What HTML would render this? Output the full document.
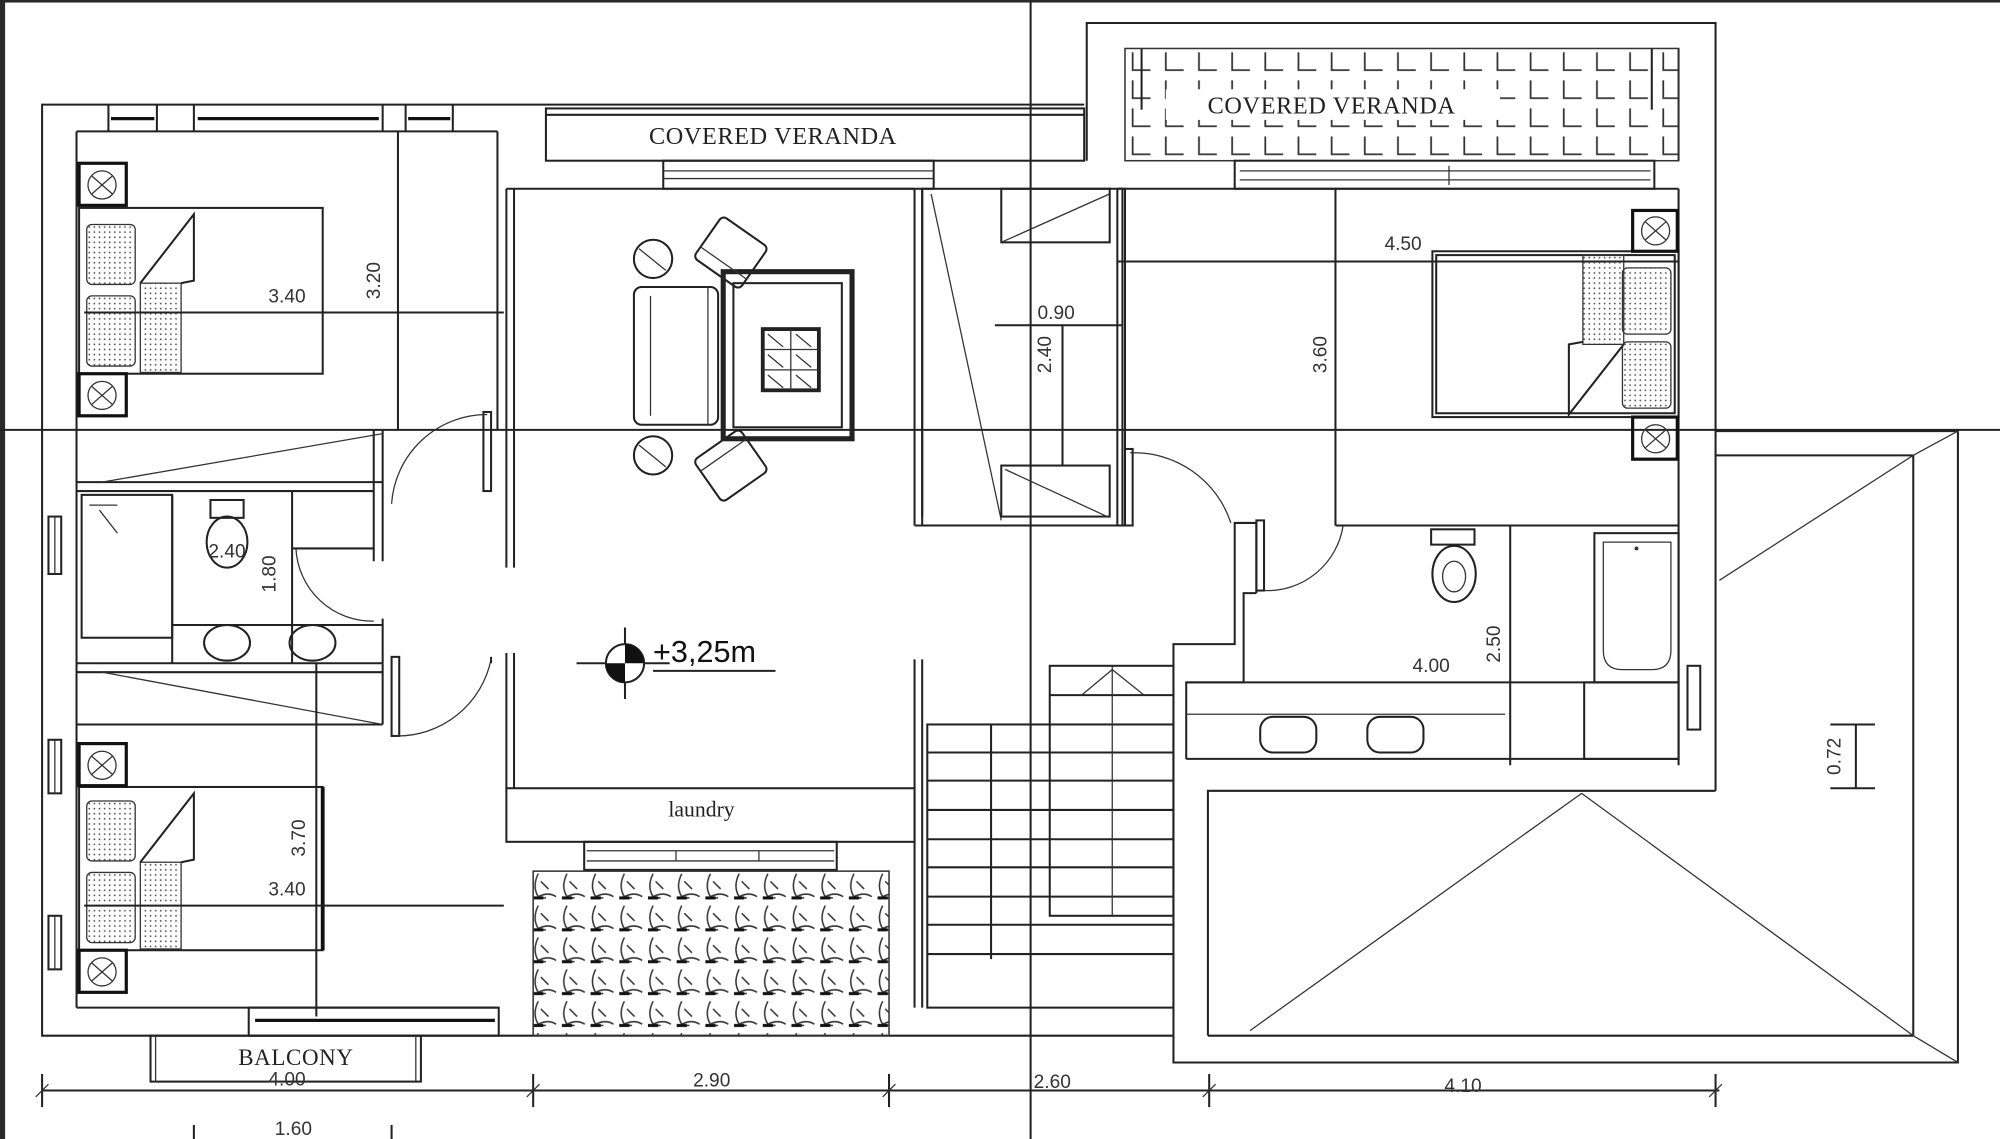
<!DOCTYPE html>
<html><head><meta charset="utf-8"><style>
html,body{margin:0;padding:0;background:#fff;width:2000px;height:1139px;overflow:hidden}
svg{display:block}
.l{fill:none;stroke:#222;stroke-width:1.6}
.t{fill:none;stroke:#333;stroke-width:1}
.tk{fill:none;stroke:#111;stroke-width:2.6}
.lab{font-family:"Liberation Serif",serif;fill:#222}
.dim{font-family:"Liberation Sans",sans-serif;fill:#333;font-size:15px}
</style></head><body>
<svg width="2000" height="1139" viewBox="0 0 1568 893" preserveAspectRatio="none" xmlns="http://www.w3.org/2000/svg">
<defs>
<pattern id="tileL" x="882" y="38" width="26" height="22" patternUnits="userSpaceOnUse">
<path d="M6 3 V17 H20" fill="none" stroke="#333" stroke-width="1.4"/>
</pattern>
<pattern id="tileC" x="418" y="683" width="22.5" height="25" patternUnits="userSpaceOnUse">
<path d="M4 2 Q-1 12 4 20 Q12 16 18 20 M6 8 L12 14 M2 21 H10" fill="none" stroke="#333" stroke-width="1.2"/>
<path d="M0 21 H8" stroke="#111" stroke-width="2.4"/>
</pattern>
<pattern id="dots" width="4" height="4" patternUnits="userSpaceOnUse"><circle cx="2" cy="2" r="0.7" fill="#555"/></pattern>
</defs>
<rect width="1568" height="893" fill="#fff"/>
<rect x="0" y="0" width="4" height="893" fill="#2a2a2a"/>
<rect x="0" y="0" width="1568" height="2" fill="#2a2a2a"/>

<line class="l" x1="0" y1="337" x2="1568" y2="337"/>
<line class="l" x1="808" y1="0" x2="808" y2="893"/>

<polyline class="l" points="850,82 33,82 33,812 920,812"/>
<line class="l" x1="60" y1="103" x2="60" y2="790"/>
<line class="l" x1="60" y1="103" x2="390" y2="103"/>
<line class="l" x1="390" y1="103" x2="390" y2="337"/>
<line class="l" x1="60" y1="790" x2="390" y2="790"/>
<g class="l"><line x1="85" y1="82" x2="85" y2="103"/><line x1="123" y1="82" x2="123" y2="103"/><line x1="152" y1="82" x2="152" y2="103"/><line x1="300" y1="82" x2="300" y2="103"/><line x1="318" y1="82" x2="318" y2="103"/><line x1="355" y1="82" x2="355" y2="103"/></g>
<g class="tk"><line x1="87" y1="93" x2="121" y2="93"/><line x1="155" y1="93" x2="297" y2="93"/><line x1="320" y1="93" x2="353" y2="93"/></g>
<rect class="l" x="428" y="85" width="422" height="41"/>
<line class="l" x1="428" y1="90" x2="850" y2="90"/>
<text class="lab" x="606" y="113" font-size="19" text-anchor="middle" letter-spacing="0.5">COVERED VERANDA</text>
<rect class="l" x="520" y="126" width="212" height="22"/>
<line class="t" x1="520" y1="134" x2="732" y2="134"/><line class="t" x1="520" y1="140" x2="732" y2="140"/>

<line class="l" x1="397" y1="148" x2="717" y2="148"/>
<line class="l" x1="397" y1="148" x2="397" y2="445"/>
<line class="l" x1="403" y1="148" x2="403" y2="445"/>
<line class="l" x1="397" y1="512" x2="397" y2="618"/>
<line class="l" x1="403" y1="512" x2="403" y2="618"/>
<line class="l" x1="717" y1="148" x2="717" y2="412"/>
<line class="l" x1="723" y1="148" x2="723" y2="405"/>
<line class="l" x1="717" y1="517" x2="717" y2="790"/>
<line class="l" x1="723" y1="517" x2="723" y2="790"/>
<rect class="l" x="397" y="618" width="320" height="42"/>
<text class="lab" x="550" y="640" font-size="17" text-anchor="middle">laundry</text>
<rect class="l" x="458" y="660" width="198" height="22"/>
<line class="t" x1="460" y1="667" x2="654" y2="667"/><line class="t" x1="460" y1="675" x2="654" y2="675"/>
<line class="t" x1="530" y1="667" x2="530" y2="675"/><line class="t" x1="595" y1="667" x2="595" y2="675"/>
<rect x="418" y="683" width="279" height="129" fill="url(#tileC)" stroke="#333" stroke-width="1.2"/>

<line class="l" x1="452" y1="520" x2="525" y2="520"/>
<line class="l" x1="490" y1="492" x2="490" y2="548"/>
<circle cx="490" cy="520" r="15" fill="#fff" stroke="#222" stroke-width="1.6"/>
<path d="M490 505 A15 15 0 0 1 505 520 L490 520Z M490 520 L475 520 A15 15 0 0 0 490 535Z" fill="#111"/>
<text x="512" y="519" font-family="Liberation Sans,sans-serif" font-size="24" fill="#111">+3,25m</text>
<line class="l" x1="512" y1="526" x2="608" y2="526"/>

<rect x="567" y="213" width="101" height="131" fill="none" stroke="#222" stroke-width="4"/>
<rect class="l" x="575" y="222" width="85" height="113"/>
<rect x="598" y="258" width="44" height="48" fill="none" stroke="#222" stroke-width="3"/>
<path class="t" d="M620 258V306M598 274H642M598 290H642M602 262L614 272M624 262L636 272M602 294L614 304M624 294L636 304M602 278L614 288M624 278L636 288"/>
<rect class="l" x="497" y="225" width="66" height="108" rx="6"/>
<line class="t" x1="510" y1="232" x2="510" y2="326"/>
<line class="t" x1="555" y1="225" x2="555" y2="333"/>
<g transform="translate(573,198) rotate(35)"><rect class="l" x="-22" y="-20" width="44" height="40" rx="4"/><line class="t" x1="-22" y1="10" x2="22" y2="10"/></g>
<g transform="translate(573,365) rotate(-35)"><rect class="l" x="-22" y="-20" width="44" height="40" rx="4"/><line class="t" x1="-22" y1="-10" x2="22" y2="-10"/></g>
<circle class="l" cx="512" cy="203" r="15"/><line class="t" x1="501" y1="195" x2="522" y2="212"/>
<circle class="l" cx="512" cy="357" r="15"/><line class="t" x1="501" y1="349" x2="522" y2="366"/>

<rect class="l" x="62" y="163" width="191" height="130"/>
<rect x="110" y="222" width="32" height="70" fill="url(#dots)" stroke="#333"/>
<path class="l" d="M110 222 L152 168 L152 220 L142 222"/>
<rect x="68" y="176" width="38" height="47" fill="url(#dots)" stroke="#333" rx="4"/>
<rect x="68" y="232" width="38" height="55" fill="url(#dots)" stroke="#333" rx="4"/>
<rect x="62" y="128" width="37" height="33" fill="none" stroke="#111" stroke-width="2.5"/>
<circle class="t" cx="80" cy="145" r="11"/><path class="t" d="M72 138L88 152M88 138L72 152"/>
<rect x="62" y="293" width="37" height="33" fill="none" stroke="#111" stroke-width="2.5"/>
<circle class="t" cx="80" cy="310" r="11"/><path class="t" d="M72 303L88 317M88 303L72 317"/>
<line class="l" x1="66" y1="245" x2="395" y2="245"/>
<text class="dim" x="225" y="237" text-anchor="middle">3.40</text>
<line class="l" x1="312" y1="103" x2="312" y2="337"/>
<text class="dim" transform="translate(298,220) rotate(-90)" text-anchor="middle">3.20</text>

<line class="l" x1="60" y1="378" x2="300" y2="378"/>
<line class="l" x1="60" y1="385" x2="293" y2="385"/>
<line class="l" x1="300" y1="337" x2="300" y2="440"/>
<line class="l" x1="293" y1="337" x2="293" y2="440"/>
<line class="t" x1="80" y1="378" x2="300" y2="340"/>
<rect class="l" x="64" y="388" width="71" height="112"/>
<line class="t" x1="70" y1="396" x2="92" y2="396"/><line class="t" x1="78" y1="400" x2="92" y2="418"/>
<line class="l" x1="135" y1="388" x2="135" y2="520"/>
<ellipse class="l" cx="178" cy="425" rx="16" ry="20"/><rect class="l" x="165" y="392" width="26" height="14"/>
<text class="dim" x="178" y="437" text-anchor="middle">2.40</text>
<line class="l" x1="229" y1="385" x2="229" y2="520"/>
<text class="dim" transform="translate(216,450) rotate(-90)" text-anchor="middle">1.80</text>
<line class="l" x1="229" y1="430" x2="293" y2="430"/>
<path class="t" d="M232 430 A60 60 0 0 0 293 487"/>
<line class="l" x1="135" y1="490" x2="300" y2="490"/>
<ellipse class="l" cx="178" cy="504" rx="18" ry="14"/><ellipse class="l" cx="245" cy="504" rx="18" ry="14"/>
<line class="l" x1="60" y1="520" x2="300" y2="520"/>
<line class="l" x1="60" y1="527" x2="300" y2="527"/>
<line class="l" x1="300" y1="485" x2="300" y2="520"/>
<line class="t" x1="80" y1="527" x2="300" y2="568"/>
<line class="l" x1="60" y1="568" x2="300" y2="568"/>
<line class="l" x1="300" y1="520" x2="300" y2="568"/>
<rect class="l" x="307" y="515" width="6" height="62"/>
<path class="t" d="M310 577 A75 75 0 0 0 385 517"/>
<line class="l" x1="385" y1="515" x2="385" y2="520"/>
<rect class="l" x="379" y="323" width="6" height="62"/>
<path class="t" d="M382 325 A75 75 0 0 0 307 395"/>
<rect class="l" x="38" y="405" width="10" height="45"/><line class="t" x1="43" y1="405" x2="43" y2="450"/>
<rect class="l" x="38" y="580" width="10" height="42"/><line class="t" x1="43" y1="580" x2="43" y2="622"/>
<rect class="l" x="38" y="718" width="10" height="42"/><line class="t" x1="43" y1="718" x2="43" y2="760"/>

<rect class="l" x="62" y="617" width="191" height="128"/>
<line x1="253" y1="617" x2="253" y2="745" stroke="#111" stroke-width="3"/>
<rect x="110" y="676" width="32" height="68" fill="url(#dots)" stroke="#333"/>
<path class="l" d="M110 676 L152 622 L152 674 L142 676"/>
<rect x="68" y="628" width="38" height="47" fill="url(#dots)" stroke="#333" rx="4"/>
<rect x="68" y="684" width="38" height="55" fill="url(#dots)" stroke="#333" rx="4"/>
<rect x="62" y="583" width="37" height="33" fill="none" stroke="#111" stroke-width="2.5"/>
<circle class="t" cx="80" cy="600" r="11"/><path class="t" d="M72 593L88 607M88 593L72 607"/>
<rect x="62" y="745" width="37" height="33" fill="none" stroke="#111" stroke-width="2.5"/>
<circle class="t" cx="80" cy="762" r="11"/><path class="t" d="M72 755L88 769M88 755L72 769"/>
<line class="l" x1="66" y1="710" x2="395" y2="710"/>
<text class="dim" x="225" y="702" text-anchor="middle">3.40</text>
<line class="l" x1="248" y1="520" x2="248" y2="797"/>
<text class="dim" transform="translate(239,657) rotate(-90)" text-anchor="middle">3.70</text>
<rect class="l" x="195" y="790" width="196" height="22"/>
<line class="tk" x1="200" y1="800" x2="388" y2="800"/>
<rect class="l" x="118" y="812" width="212" height="36"/>
<line class="t" x1="122" y1="812" x2="122" y2="848"/><line class="t" x1="326" y1="812" x2="326" y2="848"/>
<text class="lab" x="232" y="835" font-size="18" text-anchor="middle" letter-spacing="0.5">BALCONY</text>

<line class="l" x1="717" y1="412" x2="770" y2="412"/>
<rect class="l" x="723" y="148" width="157" height="264"/>
<rect class="l" x="785" y="148" width="85" height="42"/>
<line class="t" x1="730" y1="152" x2="785" y2="408"/>
<line class="t" x1="870" y1="152" x2="785" y2="190"/>
<rect class="l" x="785" y="365" width="85" height="40"/>
<line class="t" x1="788" y1="368" x2="868" y2="405"/>
<line class="l" x1="833" y1="255" x2="833" y2="365"/>
<line class="l" x1="780" y1="255" x2="880" y2="255"/>
<text class="dim" x="828" y="250" text-anchor="middle">0.90</text>
<text class="dim" transform="translate(824,278) rotate(-90)" text-anchor="middle">2.40</text>
<rect class="l" x="876" y="148" width="6" height="264"/>
<rect class="l" x="882" y="352" width="6" height="60"/>
<path class="t" d="M886 355 A80 80 0 0 1 965 410"/>

<rect class="l" x="727" y="568" width="193" height="222"/>
<g class="l"><line x1="727" y1="590" x2="920" y2="590"/><line x1="727" y1="612" x2="920" y2="612"/><line x1="727" y1="635" x2="920" y2="635"/><line x1="727" y1="658" x2="920" y2="658"/><line x1="727" y1="680" x2="920" y2="680"/><line x1="727" y1="703" x2="920" y2="703"/><line x1="727" y1="725" x2="920" y2="725"/><line x1="727" y1="748" x2="920" y2="748"/></g>
<line class="l" x1="777" y1="568" x2="777" y2="752"/>
<rect class="l" x="823" y="522" width="97" height="196"/>
<line class="l" x1="823" y1="545" x2="920" y2="545"/>
<line class="t" x1="872" y1="522" x2="872" y2="718"/>
<path class="t" d="M848 545 L872 525 L897 545"/>
<polyline class="l" points="920,812 920,505 968,505 968,410 985,410 985,465"/>
<polyline class="l" points="930,595 930,535 975,535 975,465 985,465"/>
<rect class="l" x="985" y="408" width="6" height="55"/>
<path class="t" d="M991 463 A60 60 0 0 0 1053 412"/>

<polyline class="l" points="852,126 852,18 1345,18 1345,620"/>
<line class="l" x1="1316" y1="38" x2="1316" y2="126"/>
<rect x="882" y="38" width="434" height="88" fill="url(#tileL)" stroke="#333" stroke-width="1.2"/>
<line class="l" x1="895" y1="38" x2="895" y2="86"/><line class="l" x1="1295" y1="38" x2="1295" y2="86"/>
<rect x="914" y="70" width="262" height="24" fill="#fff"/>
<text class="lab" x="1044" y="89" font-size="19" text-anchor="middle" letter-spacing="0.5">COVERED VERANDA</text>
<rect class="l" x="968" y="126" width="329" height="22"/>
<line class="t" x1="972" y1="134" x2="1294" y2="134"/><line class="t" x1="972" y1="141" x2="1294" y2="141"/><line class="t" x1="1136" y1="130" x2="1136" y2="145"/>
<line class="l" x1="880" y1="148" x2="1316" y2="148"/>
<line class="l" x1="1316" y1="148" x2="1316" y2="600"/>
<line class="l" x1="876" y1="205" x2="1316" y2="205"/>
<text class="dim" x="1100" y="196" text-anchor="middle">4.50</text>
<line class="l" x1="1047" y1="148" x2="1047" y2="412"/>
<text class="dim" transform="translate(1040,278) rotate(-90)" text-anchor="middle">3.60</text>
<rect class="l" x="1123" y="197" width="193" height="130"/>
<rect class="l" x="1126" y="200" width="187" height="124"/>
<rect x="1241" y="200" width="32" height="70" fill="url(#dots)" stroke="#333"/>
<path class="l" d="M1273 270 L1230 325 L1230 270 L1241 268"/>
<rect x="1272" y="210" width="38" height="52" fill="url(#dots)" stroke="#333" rx="4"/>
<rect x="1272" y="268" width="38" height="52" fill="url(#dots)" stroke="#333" rx="4"/>
<rect x="1280" y="165" width="35" height="32" fill="none" stroke="#111" stroke-width="2.5"/>
<circle class="t" cx="1298" cy="181" r="11"/><path class="t" d="M1290 174L1306 188M1306 174L1290 188"/>
<rect x="1280" y="327" width="35" height="33" fill="none" stroke="#111" stroke-width="2.5"/>
<circle class="t" cx="1298" cy="344" r="11"/><path class="t" d="M1290 337L1306 351M1306 337L1290 351"/>
<line class="l" x1="1047" y1="412" x2="1316" y2="412"/>
<rect class="l" x="1122" y="415" width="34" height="12"/>
<ellipse class="l" cx="1140" cy="450" rx="17" ry="22"/><ellipse class="t" cx="1140" cy="452" rx="9" ry="12"/>
<line class="l" x1="1184" y1="412" x2="1184" y2="600"/>
<text class="dim" transform="translate(1176,505) rotate(-90)" text-anchor="middle">2.50</text>
<rect class="l" x="1250" y="418" width="66" height="117"/>
<path class="t" d="M1257 425 H1310 V510 Q1310 525 1295 525 H1272 Q1257 525 1257 510Z"/>
<circle cx="1283" cy="430" r="1.5" fill="#333"/>
<rect class="l" x="1242" y="535" width="74" height="60"/>
<rect class="l" x="1323" y="522" width="10" height="50"/>
<line class="l" x1="930" y1="535" x2="1316" y2="535"/>
<line class="l" x1="930" y1="595" x2="1316" y2="595"/>
<text class="dim" x="1122" y="527" text-anchor="middle">4.00</text>
<line class="t" x1="930" y1="560" x2="1180" y2="560"/>
<rect class="l" x="988" y="562" width="44" height="28" rx="10"/><rect class="l" x="1072" y="562" width="44" height="28" rx="10"/>
<polyline class="l" points="947,812 947,620 1345,620"/>
<line class="l" x1="947" y1="812" x2="1500" y2="812"/>
<polyline class="l" points="920,812 920,833 1535,833 1535,338 1345,338"/>
<line class="l" x1="1345" y1="357" x2="1500" y2="357"/>
<line class="l" x1="1500" y1="357" x2="1500" y2="812"/>
<line class="t" x1="1348" y1="455" x2="1500" y2="357"/>
<line class="t" x1="1500" y1="357" x2="1535" y2="338"/>
<line class="t" x1="1500" y1="812" x2="1535" y2="833"/>
<line class="t" x1="980" y1="808" x2="1240" y2="622"/>
<line class="t" x1="1240" y1="622" x2="1500" y2="812"/>
<line class="l" x1="1455" y1="568" x2="1455" y2="618"/>
<line class="l" x1="1435" y1="568" x2="1470" y2="568"/><line class="l" x1="1435" y1="618" x2="1470" y2="618"/>
<text class="dim" transform="translate(1443,593) rotate(-90)" text-anchor="middle">0.72</text>

<line class="l" x1="33" y1="855" x2="1348" y2="855"/>
<g class="l"><line x1="33" y1="842" x2="33" y2="868"/><line x1="418" y1="842" x2="418" y2="868"/><line x1="697" y1="842" x2="697" y2="868"/><line x1="948" y1="842" x2="948" y2="868"/><line x1="1345" y1="842" x2="1345" y2="868"/></g>
<g class="t"><line x1="28" y1="860" x2="38" y2="850"/><line x1="413" y1="860" x2="423" y2="850"/><line x1="692" y1="860" x2="702" y2="850"/><line x1="943" y1="860" x2="953" y2="850"/><line x1="1340" y1="860" x2="1350" y2="850"/></g>
<text class="dim" x="225" y="851" text-anchor="middle">4.00</text>
<text class="dim" x="558" y="852" text-anchor="middle">2.90</text>
<text class="dim" x="825" y="853" text-anchor="middle">2.60</text>
<text class="dim" x="1147" y="856" text-anchor="middle">4.10</text>
<line class="l" x1="152" y1="882" x2="152" y2="893"/><line class="l" x1="307" y1="882" x2="307" y2="893"/>
<text class="dim" x="230" y="890" text-anchor="middle">1.60</text>
</svg>
</body></html>
